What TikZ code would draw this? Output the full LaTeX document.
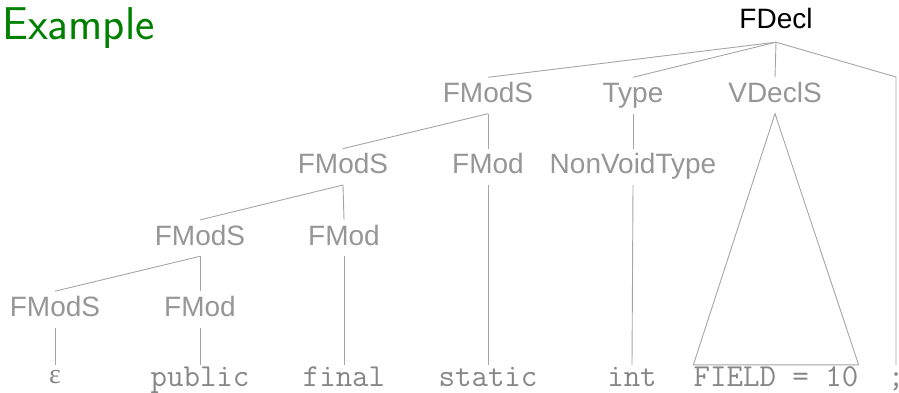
\documentclass[tikz,border=0pt]{standalone}
\usepackage{fontspec}
\setmainfont{Liberation Sans}
\newfontfamily\lmsans{Latin Modern Sans}
\newfontfamily\epsfont{Liberation Serif}
\definecolor{tgray}{RGB}{150,150,150}
\definecolor{mgray}{RGB}{135,135,135}
\definecolor{lgray}{RGB}{165,165,165}
\definecolor{titlegreen}{RGB}{0,128,0}
\begin{document}
\begin{tikzpicture}[x=1pt,y=-1pt,
  lbl/.style={anchor=base,inner xsep=0pt,inner ysep=5pt,text height=20pt,text depth=6pt,
    font=\fontsize{28}{30}\selectfont,text=tgray},
  term/.style={anchor=base,inner sep=0pt,text height=21pt,text depth=0pt,
    font=\ttfamily\fontsize{32}{34}\selectfont,text=mgray},
  edge/.style={draw=lgray,line width=0.9pt}]
\useasboundingbox (0,0) rectangle (899,393);
\node[anchor=base west,inner sep=0pt,text=titlegreen,font=\lmsans\fontsize{46}{48}\selectfont] (title) at (2,40) {Example};
\node[lbl,text=black,text depth=8pt] (fdecl) at (776,29) {FDecl};
% row 1
\node[lbl] (fmodsA) at (488,102.5) {FModS};
\node[lbl] (type) at (633,102.5) {Type};
\node[lbl] (vdecls) at (775,102.5) {VDeclS};
% row 2
\node[lbl] (fmodsB) at (343,173.8) {FModS};
\node[lbl] (fmodA) at (488,173.8) {FMod};
\node[lbl] (nvt) at (633,173.8) {NonVoidType};
% row 3
\node[lbl] (fmodsC) at (200,245.1) {FModS};
\node[lbl] (fmodB) at (344,245.1) {FMod};
% row 4
\node[lbl] (fmodsD) at (55,316.4) {FModS};
\node[lbl] (fmodC) at (200,316.4) {FMod};
% terminals
\node[term,font=\epsfont\fontsize{28}{30}\selectfont,text height=18pt] (eps) at (55,383) {ε};
\node[term] (public) at (200,386) {public};
\node[term] (final) at (344,386) {final};
\node[term] (static) at (488,386) {static};
\node[term] (int) at (632,386) {int};
\node[term] (field) at (776,386) {FIELD = 10};
\node[term] (semi) at (896,386) {\makebox[0pt]{;}};
\coordinate (semitop) at (896,77);
% edges
\draw[edge] (fdecl.south) -- (fmodsA.north);
\draw[edge] (fdecl.south) -- (type.north);
\draw[edge] (fdecl.south) -- (vdecls.north);
\draw[edge] (fdecl.south) -- (semitop) -- (semi.north);
\draw[edge] (fmodsA.south) -- (fmodsB.north);
\draw[edge] (fmodsA.south) -- (fmodA.north);
\draw[edge] (type.south) -- (nvt.north);
\draw[edge] (vdecls.south) -- (field.north west) -- (field.north east) -- cycle;
\draw[edge] (fmodsB.south) -- (fmodsC.north);
\draw[edge] (fmodsB.south) -- (fmodB.north);
\draw[edge] (fmodA.south) -- (static.north);
\draw[edge] (nvt.south) -- (int.north);
\draw[edge] (fmodsC.south) -- (fmodsD.north);
\draw[edge] (fmodsC.south) -- (fmodC.north);
\draw[edge] (fmodB.south) -- (final.north);
\draw[edge] (fmodsD.south) -- (eps.north);
\draw[edge] (fmodC.south) -- (public.north);
\end{tikzpicture}
\end{document}
